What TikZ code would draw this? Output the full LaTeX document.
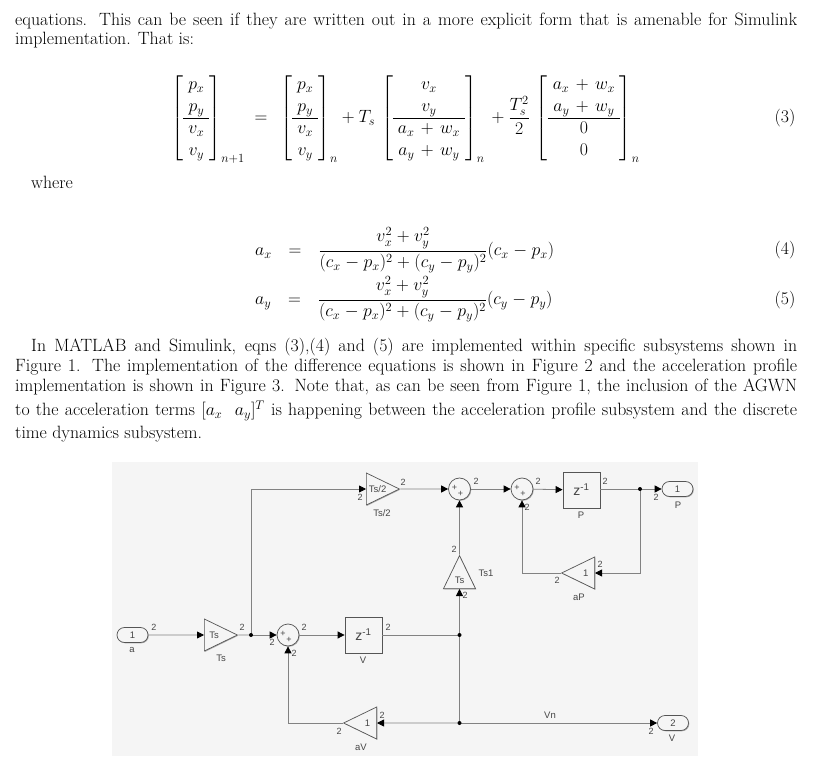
\RequirePackage{fix-cm}
\documentclass[tikz,border=0pt]{standalone}
\usepackage{amsmath,amssymb}
\usepackage{fontspec}
\usepackage{xcolor}
\usetikzlibrary{arrows.meta,positioning,shapes.geometric,shadows}
\newfontfamily\simfont{Liberation Sans}
\definecolor{panel}{RGB}{245,245,245}
\definecolor{wire}{RGB}{130,130,130}
\definecolor{block}{RGB}{85,85,85}
\definecolor{inkmut}{RGB}{70,70,70}
\renewcommand{\arraystretch}{1.12}
\newcommand{\stvec}[2]{\left[\begin{array}{c}#1\\\hline #2\end{array}\right]}
\newcommand{\acw}[1]{a_#1\mskip6.5mu{+}\mskip6.5mu w_#1}

\begin{document}
\begin{tikzpicture}[x=1pt,y=1pt,
  ln/.style={anchor=base west,inner sep=0pt,font=\fontsize{17.8}{19.4}\selectfont},
  eq/.style={inner sep=0pt,font=\fontsize{17.8}{19.4}\selectfont},
  shd/.style={drop shadow={shadow xshift=.8pt,shadow yshift=-.8pt,fill=black,opacity=.3}},
  gain/.style={isosceles triangle,isosceles triangle stretches,anchor=lower side,draw=block,fill=panel,shd,line width=.7pt,
    minimum width=32pt,minimum height=33pt,inner sep=0pt,font=\simfont\fontsize{9.5}{10}\selectfont,text=inkmut},
  dly/.style={draw=block,fill=panel,shd,line width=.8pt,minimum width=37pt,minimum height=36pt,inner sep=0pt,
    font=\simfont\fontsize{14}{14}\selectfont,text=inkmut},
  sumc/.style={circle,draw=block,fill=panel,shd,line width=.7pt,minimum size=22pt,inner sep=0pt},
  plus/.style={inner sep=0pt,font=\simfont\fontsize{9}{9}\selectfont,text=inkmut},
  port/.style={draw=block,fill=panel,shd,line width=.7pt,rounded corners=7.5pt,minimum width=31pt,minimum height=15pt,
    inner sep=0pt,font=\simfont\fontsize{9.5}{10}\selectfont,text=inkmut},
  jn/.style={circle,fill=black,minimum size=4pt,inner sep=0pt},
  w/.style={inner sep=0pt,font=\simfont\fontsize{9}{9}\selectfont,text=inkmut},
  nm/.style={inner sep=0pt,font=\simfont\fontsize{9.5}{10}\selectfont,text=inkmut},
  ed/.style={-{Triangle[length=7pt,width=7pt,black]},draw=wire,line width=.8pt},
  pl/.style={draw=wire,line width=.8pt}]
\useasboundingbox (0,0) rectangle (814,756);
\fill[white] (0,0) rectangle (814,756);
% page text
\node[ln] (t1) at (15,730) {\hbox to 782pt{equations. This can be seen if they are written out in a more explicit form that is amenable for Simulink}};
\node[ln] (t2) at (15,711) {implementation. That is:};
\node[eq] (eq3) at (405.5,637)
  {$\stvec{p_x\\p_y}{v_x\\v_y}_{n+1}
    \;=\;\, \stvec{p_x\\p_y}{v_x\\v_y}_{n}
    + T_s\,\stvec{v_x\\v_y}{\acw{x}\\\acw{y}}_{n}
    \,+ \dfrac{T_s^2}{2}\,\stvec{\acw{x}\\\acw{y}}{0\\0}_{n}$};
\node[eq] (no3) at (785,638) {(3)};
\node[ln] (t3) at (31,567) {where};
\node[eq,anchor=west] (eq4) at (255,506)
  {$\medmuskip=4.5mu a_x\hspace{12pt}=\hspace{12pt}\dfrac{v_x^2+v_y^2}{(c_x-p_x)^2+(c_y-p_y)^2}(c_x-p_x)$};
\node[eq] (no4) at (785,506) {(4)};
\node[eq,anchor=west] (eq5) at (255,457)
  {$\medmuskip=4.5mu a_y\hspace{12pt}=\hspace{12pt}\dfrac{v_x^2+v_y^2}{(c_x-p_x)^2+(c_y-p_y)^2}(c_y-p_y)$};
\node[eq] (no5) at (785,456) {(5)};
\node[ln] (t4) at (31,404) {\hbox to 766pt{In MATLAB and Simulink, eqns (3),(4) and (5) are implemented within specific subsystems shown in}};
\node[ln] (t5) at (15,384) {\hbox to 782pt{Figure 1. The implementation of the difference equations is shown in Figure 2 and the acceleration profile}};
\node[ln] (t6) at (15,364) {\hbox to 782pt{implementation is shown in Figure 3. Note that, as can be seen from Figure 1, the inclusion of the AGWN}};
\node[ln] (t7) at (15,340) {\hbox to 782pt{to the acceleration terms $[a_x\ \ a_y]^T$ is happening between the acceleration profile subsystem and the discrete}};
\node[ln] (t8) at (15,317) {time dynamics subsystem.};
% simulink panel
\fill[panel] (112,0) rectangle (698,294);
\node[port] (a) at (132.5,121) {1};
\node[nm] (la) at (132,106) {a};
\node[gain] (ts) at (204,121) {Ts};
\node[nm] (lts) at (221,98) {Ts};
\coordinate (j1) at (251,121);
\node[gain] (th) at (366,267) {Ts/2};
\node[nm] (lth) at (382,243) {Ts/2};
\node[sumc] (s1) at (288,121) {};
\node[plus] (s1a) at (283,122) {+};
\node[plus] (s1b) at (289,116) {+};
\node[dly] (v) at (363.5,121) {z\textsuperscript{-1}};
\node[nm] (lv) at (363,96) {V};
\node[gain,shape border rotate=180] (av) at (377,33) {1};
\node[nm] (lav) at (361,9) {aV};
\coordinate (j2) at (459.5,121);
\coordinate (j3) at (459.5,33);
\node[gain,shape border rotate=90] (t1g) at (459.5,167) {Ts};
\node[nm] (lt1) at (486,183) {Ts1};
\node[sumc] (s2) at (459.5,267) {};
\node[plus] (s2a) at (454.5,268) {+};
\node[plus] (s2b) at (460.5,262) {+};
\node[sumc] (s3) at (522,267) {};
\node[plus] (s3a) at (517,268) {+};
\node[plus] (s3b) at (523,262) {+};
\node[dly] (p) at (581.5,266) {z\textsuperscript{-1}};
\node[nm] (lp) at (581,241) {P};
\coordinate (j4) at (640,267);
\node[port] (op) at (677.5,267) {1};
\node[nm] (lop) at (678,251) {P};
\node[gain,shape border rotate=180] (ap) at (595,183) {1};
\node[nm] (lap) at (579,159) {aP};
\node[port] (ov) at (673,33) {2};
\node[nm] (lov) at (672,18) {V};
\node[nm] (lvn) at (550,41) {Vn};
% wires
\draw[ed] (a) -- (ts);
\draw[pl] (ts.east) -- (j1);
\draw[ed] (j1) -- (s1);
\draw[ed] (j1) |- (th);
\draw[ed] (s1) -- (v);
\draw[pl] (v) -- (j2);
\draw[pl] (j3) -- (j2);
\draw[ed] (j2) -- (t1g);
\draw[ed] (j3) -- (av);
\draw[ed] (av) -| (s1);
\draw[ed] (th) -- (s2);
\draw[ed] (t1g) -- (s2);
\draw[ed] (s2) -- (s3);
\draw[ed] (s3) -- (p);
\draw[pl] (p.east |- j4) -- (j4);
\draw[ed] (j4) -- (op);
\draw[ed] (j4) |- (ap);
\draw[ed] (ap) -| (s3);
\draw[ed] (j3) -- (ov);
\node[jn] (d1) at (j1) {};
\node[jn] (d2) at (j2) {};
\node[jn] (d3) at (j3) {};
\node[jn] (d4) at (j4) {};
% signal widths
\node[w] (w1) at (154,129) {2};
\node[w] (w2) at (242,129) {2};
\node[w] (w3) at (360,259) {2};
\node[w] (w4) at (403,274) {2};
\node[w] (w5) at (272,114) {2};
\node[w] (w6) at (294,103) {2};
\node[w] (w7) at (304,129) {2};
\node[w] (w8) at (388,129) {2};
\node[w] (w9) at (382,41) {2};
\node[w] (w10) at (339,25) {2};
\node[w] (w11) at (476,275) {2};
\node[w] (w12) at (538,275) {2};
\node[w] (w13) at (527,249) {2};
\node[w] (w14) at (605,275) {2};
\node[w] (w15) at (656,259) {2};
\node[w] (w16) at (600,192) {2};
\node[w] (w17) at (557,176) {2};
\node[w] (w18) at (454,207) {2};
\node[w] (w19) at (465,161) {2};
\node[w] (w20) at (651,25) {2};
\end{tikzpicture}
\end{document}
